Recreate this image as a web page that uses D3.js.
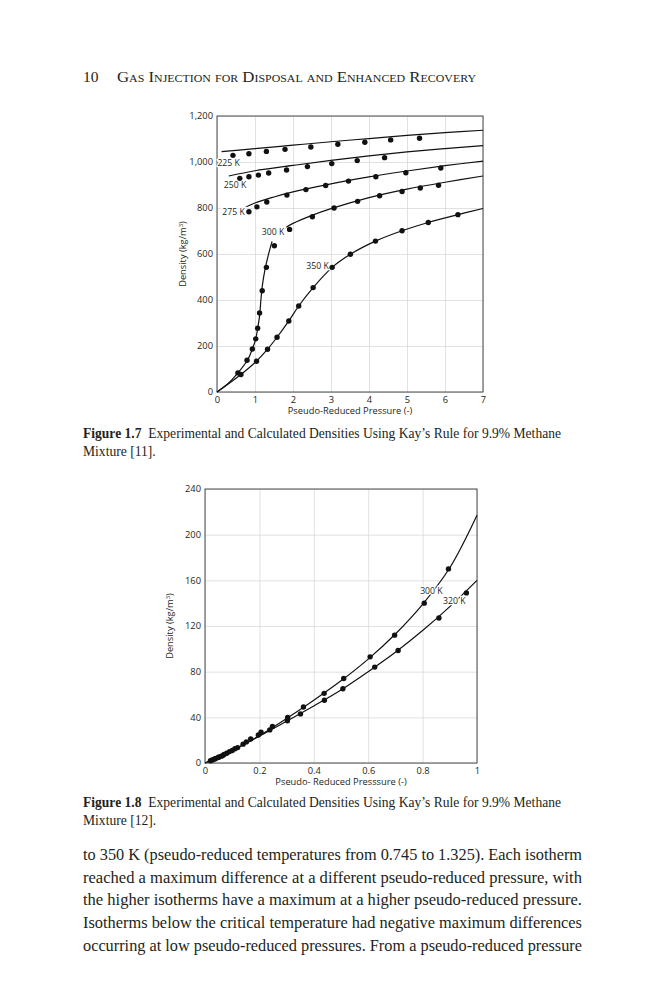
<!DOCTYPE html>
<html>
<head>
<meta charset="utf-8">
<script src="https://cdn.jsdelivr.net/npm/d3@7"></script>
<style>
  body { margin: 0; background: #fff; }
  .serif { font-family: "Liberation Serif", "DejaVu Serif", serif; fill: #231f20; }
  .sans { font-family: "Open Sans", "Noto Sans", sans-serif; fill: #231f20; }
  .grid line { stroke: #d4d4d4; stroke-width: 0.7; }
  .grid .domain { display: none; }
  .tick text { font-family: "Open Sans", "Noto Sans", sans-serif; fill: #231f20; }
</style>
</head>
<body>
<div id="container"></div>
<script>
let w = 666;
let h = 1000;

// ---------- Figure 1.7 data ----------
let f7xTicks = [0, 1, 2, 3, 4, 5, 6, 7];
let f7yTicks = [0, 200, 400, 600, 800, 1000, 1200];

// calculated isotherms (lines)
let line225 = [[0.12,1045],[1,1058],[2,1073],[3,1088],[4,1102],[5,1116],[6,1128],[7,1138]];
let line250 = [[0.31,939],[1,962],[2,985],[3,1007],[4,1027],[5,1044],[6,1058],[7,1071]];
let line275 = [[0.68,798],[1,822],[1.5,848],[2,870],[3,905],[4,935],[5,961],[6,984],[7,1004]];
let line300hi = [[1.78,712],[2,733],[2.5,768],[3,797],[4,845],[5,882],[6,912],[7,939]];
let line300lo = [[0,0],[0.3,38],[0.55,83],[0.8,138],[0.93,187],[1.02,231],[1.07,277],[1.12,330],[1.16,410],[1.2,470],[1.26,530],[1.35,595],[1.45,655]];
let line350 = [[0,0],[0.63,76],[1.04,134],[1.33,186],[1.58,238],[1.89,309],[2.15,374],[2.53,454],[3.03,542],[3.51,599],[4.17,656],[4.87,701],[5.56,737],[6.34,771],[7,798]];

// experimental points
let pts225 = [[0.42,1029],[0.84,1036],[1.30,1046],[1.79,1055],[2.47,1065],[3.18,1077],[3.89,1086],[4.57,1096],[5.33,1103]];
let pts250 = [[0.60,929],[0.84,936],[1.09,943],[1.36,952],[1.83,965],[2.38,980],[3.02,993],[3.69,1006],[4.41,1019]];
let pts275 = [[0.84,784],[1.05,805],[1.31,826],[1.84,856],[2.34,880],[2.86,898],[3.46,917],[4.18,936],[4.97,953],[5.89,974]];
let pts300 = [[0.55,83],[0.79,138],[0.93,187],[1.02,231],[1.07,277],[1.12,344],[1.19,440],[1.30,542],[1.51,636],[1.91,707],[2.51,762],[3.08,800],[3.70,829],[4.28,853],[4.87,872],[5.35,887],[5.83,899]];
let pts350 = [[0.63,76],[1.04,134],[1.33,186],[1.58,238],[1.89,309],[2.15,374],[2.53,454],[3.03,542],[3.51,599],[4.17,656],[4.87,701],[5.56,737],[6.34,771]];

let f7Labels = [["225 K",0.01,982],["250 K",0.18,887],["275 K",0.14,769],["300 K",1.18,682],["350 K",2.35,536]];

// ---------- Figure 1.8 data ----------
let f8xTicks = [0, 0.2, 0.4, 0.6, 0.8, 1];
let f8yTicks = [0, 40, 80, 120, 160, 200, 240];

let line300b = [[0,0],[0.1,11],[0.2,24],[0.3,39],[0.4,55],[0.5,72],[0.6,91],[0.7,113],[0.8,139],[0.9,171],[1.0,217]];
let line320b = [[0,0],[0.1,11],[0.2,23.5],[0.3,36.5],[0.4,50],[0.5,64],[0.6,80],[0.7,97],[0.8,116],[0.9,137],[1.0,160]];

let pts300b = [[0.02,2],[0.03,3],[0.04,4],[0.05,5],[0.06,6],[0.07,7.5],[0.09,10],[0.11,12.5],[0.14,16.5],[0.168,21],[0.206,27],[0.248,32],[0.304,40],[0.362,49],[0.438,61],[0.51,74],[0.607,93],[0.697,112],[0.806,140],[0.895,170]];
let pts320b = [[0.025,2.5],[0.035,3.5],[0.05,5],[0.065,6.5],[0.08,8.5],[0.10,11],[0.12,13.5],[0.152,18.5],[0.196,24.5],[0.238,29],[0.303,37],[0.351,43],[0.439,55],[0.507,65],[0.624,84],[0.71,98.6],[0.86,127],[0.961,149]];

let f8Labels = [["300 K",0.791,148],["320 K",0.875,139.5]];

// ---------- page text ----------
let headerNum = "10";
let headerTitle = "Gas Injection for Disposal and Enhanced Recovery";
let caption7 = ["Figure 1.7", "Experimental and Calculated Densities Using Kay\u2019s Rule for 9.9% Methane", "Mixture [11]."];
let caption8 = ["Figure 1.8", "Experimental and Calculated Densities Using Kay\u2019s Rule for 9.9% Methane", "Mixture [12]."];
let bodyLines = [
  "to 350 K (pseudo-reduced temperatures from 0.745 to 1.325). Each isotherm",
  "reached a maximum difference at a different pseudo-reduced pressure, with",
  "the higher isotherms have a maximum at a higher pseudo-reduced pressure.",
  "Isotherms below the critical temperature had negative maximum differences",
  "occurring at low pseudo-reduced pressures. From a pseudo-reduced pressure"
];

let viz = d3.select("#container")
  .append("svg")
    .attr("width", w)
    .attr("height", h)
;
viz.append("rect").attr("width", w).attr("height", h).attr("fill", "#fff");

// header
viz.append("text").attr("class", "serif").attr("x", 83).attr("y", 82)
  .attr("font-size", 15.5).text(headerNum);
viz.append("text").attr("class", "serif").attr("x", 117).attr("y", 82)
  .attr("font-size", 15.5).style("font-variant", "small-caps")
  .attr("textLength", 359).attr("lengthAdjust", "spacingAndGlyphs")
  .text(headerTitle);

function drawChart(opt) {
  let g = viz.append("g");
  let xScale = d3.scaleLinear().domain(opt.xDomain).range([opt.left, opt.right]);
  let yScale = d3.scaleLinear().domain(opt.yDomain).range([opt.bottom, opt.top]);
  let pw = opt.right - opt.left;
  let ph = opt.bottom - opt.top;

  // grid
  g.append("g").attr("class", "grid")
    .attr("transform", "translate(0," + opt.bottom + ")")
    .call(d3.axisBottom(xScale).tickValues(opt.xTicks).tickSize(-ph).tickFormat(""));
  g.append("g").attr("class", "grid")
    .attr("transform", "translate(" + opt.left + ",0)")
    .call(d3.axisLeft(yScale).tickValues(opt.yTicks).tickSize(-pw).tickFormat(""));

  // tick labels
  let xAxis = g.append("g")
    .attr("transform", "translate(0," + opt.bottom + ")")
    .call(d3.axisBottom(xScale).tickValues(opt.xTicks).tickSize(0).tickPadding(4).tickFormat(opt.xFormat));
  xAxis.select(".domain").remove();
  xAxis.selectAll("text").attr("font-size", 9.3);
  let yAxis = g.append("g")
    .attr("transform", "translate(" + opt.left + ",0)")
    .call(d3.axisLeft(yScale).tickValues(opt.yTicks).tickSize(0).tickPadding(4).tickFormat(opt.yFormat));
  yAxis.select(".domain").remove();
  yAxis.selectAll("text").attr("font-size", 9.3);

  // frame
  g.append("rect").attr("x", opt.left).attr("y", opt.top)
    .attr("width", pw).attr("height", ph)
    .attr("fill", "none").attr("stroke", "#4a4a4a").attr("stroke-width", 1);

  let line = d3.line()
    .x(function(d){ return xScale(d[0]); })
    .y(function(d){ return yScale(d[1]); })
    .curve(d3.curveCatmullRom.alpha(0.5));

  opt.lines.forEach(function(l){
    g.append("path").attr("d", line(l))
      .attr("fill", "none").attr("stroke", "#111").attr("stroke-width", 1.2);
  });

  // labels with white halo so lines break behind them
  opt.labels.forEach(function(lb){
    g.append("text").attr("class", "sans")
      .attr("x", xScale(lb[1])).attr("y", yScale(lb[2]))
      .attr("font-size", 8.7)
      .attr("stroke", "#fff").attr("stroke-width", 2.5).attr("paint-order", "stroke")
      .text(lb[0]);
  });

  opt.points.forEach(function(p){
    g.selectAll(null).data(p).enter().append("circle")
      .attr("cx", function(d){ return xScale(d[0]); })
      .attr("cy", function(d){ return yScale(d[1]); })
      .attr("r", 2.7).attr("fill", "#111");
  });

  // axis titles
  g.append("text").attr("class", "sans")
    .attr("x", (opt.left + opt.right) / 2).attr("y", opt.bottom + 22)
    .attr("text-anchor", "middle").attr("font-size", 9.3)
    .text(opt.xTitle);
  let yt = g.append("text").attr("class", "sans")
    .attr("transform", "translate(" + opt.yTitleX + "," + ((opt.top + opt.bottom) / 2) + ") rotate(-90)")
    .attr("text-anchor", "middle").attr("font-size", 9.3);
  yt.append("tspan").text("Density (kg/m");
  yt.append("tspan").attr("font-size", 6).attr("dy", -3.5).text("3");
  yt.append("tspan").attr("dy", 3.5).text(")");
}

drawChart({
  left: 217, right: 483, top: 116, bottom: 392,
  xDomain: [0, 7], yDomain: [0, 1200],
  xTicks: f7xTicks, yTicks: f7yTicks,
  xFormat: d3.format("d"), yFormat: d3.format(","),
  lines: [line225, line250, line275, line300hi, line300lo, line350],
  points: [pts225, pts250, pts275, pts300, pts350],
  labels: f7Labels,
  xTitle: "Pseudo-Reduced Pressure (-)",
  yTitleX: 186
});

drawChart({
  left: 205, right: 477, top: 489, bottom: 763,
  xDomain: [0, 1], yDomain: [0, 240],
  xTicks: f8xTicks, yTicks: f8yTicks,
  xFormat: function(d){ return d === 0 || d === 1 ? d3.format("d")(d) : d3.format(".1f")(d); },
  yFormat: d3.format("d"),
  lines: [line300b, line320b],
  points: [pts300b, pts320b],
  labels: f8Labels,
  xTitle: "Pseudo- Reduced Presssure (-)",
  yTitleX: 173
});

// captions
function caption(lines, y) {
  let t = viz.append("text").attr("class", "serif").attr("x", 83).attr("y", y)
    .attr("font-size", 13.6)
    .attr("textLength", 478).attr("lengthAdjust", "spacingAndGlyphs");
  t.append("tspan").attr("font-weight", "bold").text(lines[0]);
  t.append("tspan").text("\u2002" + lines[1]);
  viz.append("text").attr("class", "serif").attr("x", 83).attr("y", y + 17.5)
    .attr("font-size", 13.6).text(lines[2]);
}
caption(caption7, 438);
caption(caption8, 807);

// body text, justified
bodyLines.forEach(function(s, i){
  viz.append("text").attr("class", "serif")
    .attr("x", 83).attr("y", 860 + i * 22.7)
    .attr("font-size", 17.3)
    .attr("textLength", 499).attr("lengthAdjust", "spacingAndGlyphs")
    .text(s);
});
</script>
</body>
</html>
